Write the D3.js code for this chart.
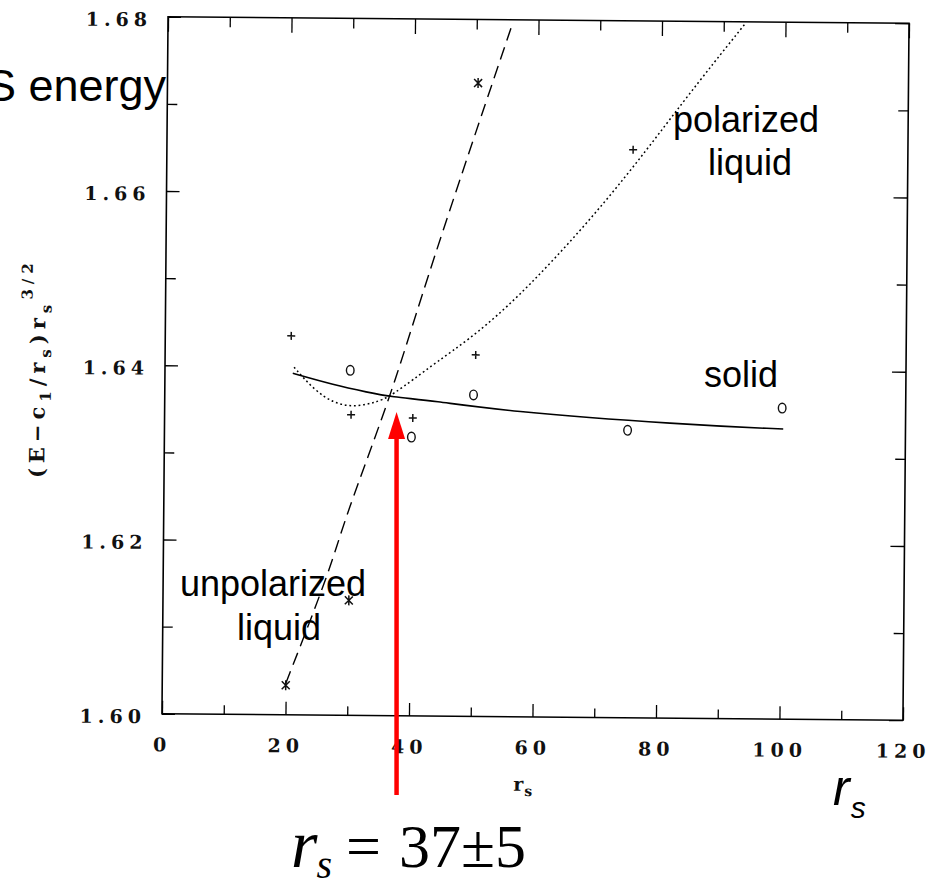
<!DOCTYPE html>
<html>
  <head>
    <meta charset="UTF-8">
    <title>Wigner crystal energy</title>
    <script src="https://d3js.org/d3.v7.min.js"></script>
    <style>
      body { margin: 0; background: #fff; }
    </style>
  </head>
  <body>
    <div id="chart-container"></div>
  <script type="text/javascript">

    // Tick values
    const xMajor = [0, 20, 40, 60, 80, 100, 120];
    const xMinor = [10, 30, 50, 70, 90, 110];
    const yMajor = [1.60, 1.62, 1.64, 1.66, 1.68];
    const yMinor = [1.61, 1.63, 1.65, 1.67];

    // Solid phase fit (solid line)
    const solidX = [20.7, 27.4, 32.9, 36.6, 43.6, 54.5, 84.1, 100.2];
    const solidY = [1.6392, 1.6379, 1.6371, 1.6366, 1.6362, 1.6351, 1.6337, 1.6333];

    // Polarized liquid fit (dotted line)
    const polX = [20.9, 24.2, 27.4, 30.7, 33.9, 36.6, 43.6, 54.3, 71.7, 83.7, 93.6];
    const polY = [1.6399, 1.6373, 1.6358, 1.6354, 1.6359, 1.6366, 1.6405, 1.6458, 1.6594, 1.6710, 1.6799];

    // Unpolarized liquid fit (dashed line)
    const unpolX = [20.0, 27.2, 29.2, 37.0, 42.1, 55.9];
    const unpolY = [1.6036, 1.6170, 1.6224, 1.6374, 1.6500, 1.6798];

    // Data markers
    const circX = [30, 40, 50, 75, 100];
    const circY = [1.6396, 1.6320, 1.6369, 1.6330, 1.6357];
    const plusX = [20.4, 30.2, 40.2, 50.3, 75.5];
    const plusY = [1.6435, 1.6345, 1.6342, 1.6415, 1.6652];
    const starX = [20.0, 30.1, 50.3];
    const starY = [1.6034, 1.6132, 1.6727];

    // Transition point
    const arrowX = 37.5;
    const arrowTipY = 1.635;

    const width = 938, height = 887;
    const tilt = 0.5; // the scanned figure sits slightly rotated

    const x = d3.scaleLinear().domain([0, 120]).range([165, 906]);
    const y = d3.scaleLinear().domain([1.60, 1.68]).range([717, 20]);

    const svg = d3.select("#chart-container")
        .append("svg")
        .attr("width", width)
        .attr("height", height)
        .attr("viewBox", `0 0 ${width} ${height}`);

    const cx = (x.range()[0] + x.range()[1]) / 2;
    const cy = (y.range()[0] + y.range()[1]) / 2;
    const g = svg.append("g").attr("transform", `rotate(${tilt},${cx},${cy})`);

    const tickFont = "'DejaVu Serif', serif";
    const styleAxis = a => a
        .attr("font-family", tickFont)
        .attr("font-size", 19)
        .attr("font-weight", "bold")
        .attr("color", "#000")
        .call(a => a.select(".domain").remove())
        .call(a => a.selectAll("line").attr("stroke-width", 1.3))
        .call(a => a.selectAll("text").attr("letter-spacing", 5).attr("fill", "#111"));

    // bottom
    g.append("g").attr("transform", `translate(0,${y(1.60)})`)
        .call(d3.axisBottom(x).tickValues(xMajor).tickSize(-13).tickPadding(24).tickFormat(d3.format("d")))
        .call(styleAxis);
    g.append("g").attr("transform", `translate(0,${y(1.60)})`)
        .call(d3.axisBottom(x).tickValues(xMinor).tickSize(-9).tickFormat(""))
        .call(styleAxis);
    // top
    g.append("g").attr("transform", `translate(0,${y(1.68)})`)
        .call(d3.axisTop(x).tickValues(xMajor).tickSize(-15).tickFormat(""))
        .call(styleAxis);
    g.append("g").attr("transform", `translate(0,${y(1.68)})`)
        .call(d3.axisTop(x).tickValues(xMinor).tickSize(-10).tickFormat(""))
        .call(styleAxis);
    // left
    g.append("g").attr("transform", `translate(${x(0)},0)`)
        .call(d3.axisLeft(y).tickValues(yMajor).tickSize(-13).tickPadding(16).tickFormat(d3.format(".2f")))
        .call(styleAxis)
        .call(a => a.selectAll("text").attr("dy", "0.48em"));
    g.append("g").attr("transform", `translate(${x(0)},0)`)
        .call(d3.axisLeft(y).tickValues(yMinor).tickSize(-10).tickFormat(""))
        .call(styleAxis);
    // right
    g.append("g").attr("transform", `translate(${x(120)},0)`)
        .call(d3.axisRight(y).tickValues(yMajor).tickSize(-14).tickFormat(""))
        .call(styleAxis);
    g.append("g").attr("transform", `translate(${x(120)},0)`)
        .call(d3.axisRight(y).tickValues(yMinor).tickSize(-10).tickFormat(""))
        .call(styleAxis);

    // frame
    g.append("rect")
        .attr("x", x(0)).attr("y", y(1.68))
        .attr("width", x(120) - x(0)).attr("height", y(1.60) - y(1.68))
        .attr("fill", "none").attr("stroke", "#000").attr("stroke-width", 1.6);

    // axis titles
    const yTitle = g.append("text")
        .attr("transform", `translate(45,${cy + 4}) rotate(-90)`)
        .attr("text-anchor", "middle")
        .attr("font-family", tickFont)
        .attr("font-size", 21)
        .attr("font-weight", "bold")
        .attr("letter-spacing", 5)
        .attr("fill", "#111");
    yTitle.append("tspan").text("(E\u2212c");
    yTitle.append("tspan").attr("font-size", 15).attr("dy", 6).text("1");
    yTitle.append("tspan").attr("dy", -6).text("/r");
    yTitle.append("tspan").attr("font-size", 15).attr("dy", 6).text("s");
    yTitle.append("tspan").attr("dy", -6).text(")r");
    yTitle.append("tspan").attr("font-size", 15).attr("dy", 6).text("s");
    yTitle.append("tspan").attr("font-size", 15).attr("dy", -19).text("3/2");

    const xTitle = g.append("text")
        .attr("x", 517).attr("y", 791)
        .attr("font-family", tickFont)
        .attr("font-size", 19)
        .attr("font-weight", "bold")
        .attr("fill", "#111");
    xTitle.append("tspan").text("r");
    xTitle.append("tspan").attr("font-size", 14).attr("dy", 5).attr("dx", 1).text("s");

    // curves
    const zip = (xs, ys) => xs.map((v, i) => [v, ys[i]]);
    const line = d3.line().x(d => x(d[0])).y(d => y(d[1])).curve(d3.curveBasis);

    g.append("path")
        .attr("d", line(zip(solidX, solidY)))
        .attr("fill", "none").attr("stroke", "#000").attr("stroke-width", 1.6);
    g.append("path")
        .attr("d", line(zip(polX, polY)))
        .attr("fill", "none").attr("stroke", "#000").attr("stroke-width", 1.5)
        .attr("stroke-dasharray", "1.8,2.8");
    g.append("path")
        .attr("d", line(zip(unpolX, unpolY)))
        .attr("fill", "none").attr("stroke", "#000").attr("stroke-width", 1.4)
        .attr("stroke-dasharray", "13,7");

    // markers
    g.selectAll(".circ").data(zip(circX, circY)).join("ellipse")
        .attr("class", "circ")
        .attr("cx", d => x(d[0])).attr("cy", d => y(d[1]))
        .attr("rx", 3.8).attr("ry", 4.8)
        .attr("fill", "none").attr("stroke", "#111").attr("stroke-width", 1.4);

    const plusPath = "M-4,0H4M0,-4V4";
    g.selectAll(".plus").data(zip(plusX, plusY)).join("path")
        .attr("class", "plus")
        .attr("transform", d => `translate(${x(d[0])},${y(d[1])})`)
        .attr("d", plusPath)
        .attr("stroke", "#111").attr("stroke-width", 1.5);

    const starPath = "M-4,-4L4,4M-4,4L4,-4M0,-5V5";
    g.selectAll(".star").data(zip(starX, starY)).join("path")
        .attr("class", "star")
        .attr("transform", d => `translate(${x(d[0])},${y(d[1])})`)
        .attr("d", starPath)
        .attr("stroke", "#111").attr("stroke-width", 1.5);

    // annotations (not part of the scanned figure)
    const sans = "'Liberation Sans', Arial, sans-serif";
    const label = (txt, lx, ly, size, anchor) => svg.append("text")
        .attr("x", lx).attr("y", ly)
        .attr("font-family", sans).attr("font-size", size)
        .attr("text-anchor", anchor || "middle")
        .attr("fill", "#000")
        .text(txt);

    label("S energy", 166, 101, 45, "end");
    label("polarized", 746, 132, 36);
    label("liquid", 750, 175, 36);
    label("solid", 741, 387, 36);
    label("unpolarized", 273, 596, 36);
    label("liquid", 279, 640, 36);

    const rs = svg.append("text")
        .attr("x", 833).attr("y", 805)
        .attr("font-family", sans).attr("font-size", 50)
        .attr("font-style", "italic").attr("fill", "#000");
    rs.append("tspan").text("r");
    rs.append("tspan").attr("font-size", 30).attr("dy", 13).attr("dx", 1).text("s");

    // red arrow
    const ax = x(arrowX);
    const tipY = y(arrowTipY);
    svg.append("line")
        .attr("x1", ax).attr("x2", ax)
        .attr("y1", 795).attr("y2", tipY + 20)
        .attr("stroke", "#ff0000").attr("stroke-width", 4.5);
    svg.append("path")
        .attr("d", `M${ax},${tipY}L${ax - 8.5},${tipY + 27}L${ax + 8.5},${tipY + 27}Z`)
        .attr("fill", "#ff0000");

    // result
    const serif = "'Liberation Serif', 'Times New Roman', serif";
    const eq = svg.append("text")
        .attr("x", 291).attr("y", 867)
        .attr("font-family", serif).attr("font-size", 62)
        .attr("fill", "#000");
    eq.append("tspan").attr("font-style", "italic").attr("font-size", 68).text("r");
    eq.append("tspan").attr("font-style", "italic").attr("font-size", 40).attr("dy", 11).attr("dx", -1).text("s");
    eq.append("tspan").attr("dy", -11).attr("dx", 14).text("=");
    eq.append("tspan").attr("dx", 18).text("37\u00b15");

  </script>
  </body>
</html>
